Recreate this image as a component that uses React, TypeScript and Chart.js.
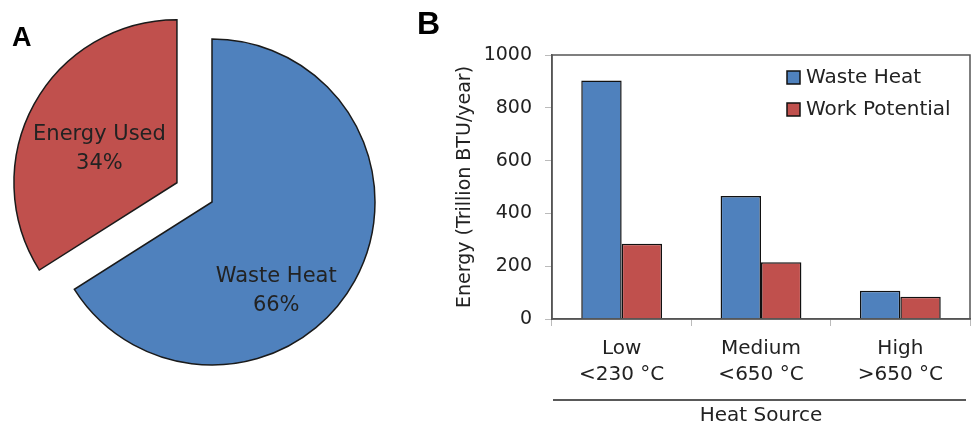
import React, { useEffect, useRef } from "react";
import { Chart, registerables } from "chart.js";

Chart.register(...registerables);

// ---------- Data ----------
const pieLabels = ["Waste Heat", "Energy Used"];
const pieValues = [66, 34];
const pieColors = ["#4F81BD", "#C0504D"];

const categories = [
  ["Low", "<230 °C"],
  ["Medium", "<650 °C"],
  ["High", ">650 °C"],
];
const seriesNames = ["Waste Heat", "Work Potential"];
const wasteHeat = [903, 466, 107];
const workPotential = [285, 215, 84];
const seriesColors = ["#4F81BD", "#C0504D"];
const yMax = 1000;
const yStep = 200;

const yTitle = "Energy (Trillion BTU/year)";
const xTitle = "Heat Source";

// ---------- Styles ----------
const FONT = "'DejaVu Sans', sans-serif";
const TEXT = "#222";
const EXPLODE = [0, 40]; // px each pie slice is pulled out
const PIE_LABEL_POS = [
  { t: 0.606, r: 0.67 },
  { t: 0.46, r: 0.52 },
];

const explodePlugin = {
  id: "explode",
  afterUpdate(chart: any) {
    const meta = chart.getDatasetMeta(0);
    meta.data.forEach((arc: any, i: number) => {
      const d = EXPLODE[i] || 0;
      if (!d) return;
      const mid = (arc.startAngle + arc.endAngle) / 2;
      arc.x += Math.cos(mid) * d;
      arc.y += Math.sin(mid) * d;
    });
  },
};

const pieLabelPlugin = {
  id: "pieLabels",
  afterDatasetsDraw(chart: any) {
    const ctx = chart.ctx;
    const meta = chart.getDatasetMeta(0);
    const values = chart.data.datasets[0].data as number[];
    const total = values.reduce((a, b) => a + b, 0);
    ctx.save();
    ctx.fillStyle = TEXT;
    ctx.font = `21px ${FONT}`;
    ctx.textAlign = "center";
    ctx.textBaseline = "middle";
    meta.data.forEach((arc: any, i: number) => {
      const pos = PIE_LABEL_POS[i];
      const a = arc.startAngle + pos.t * (arc.endAngle - arc.startAngle);
      const lx = arc.x + Math.cos(a) * arc.outerRadius * pos.r;
      const ly = arc.y + Math.sin(a) * arc.outerRadius * pos.r;
      const pct = Math.round((values[i] / total) * 100) + "%";
      ctx.fillText(chart.data.labels[i], lx, ly - 14);
      ctx.fillText(pct, lx, ly + 15);
    });
    ctx.restore();
  },
};

const barDecorPlugin = {
  id: "barDecor",
  afterDraw(chart: any) {
    const { ctx, chartArea: a } = chart;
    ctx.save();
    // frame
    ctx.strokeStyle = "#555";
    ctx.lineWidth = 1.5;
    ctx.strokeRect(a.left, a.top, a.right - a.left, a.bottom - a.top);
    // line above x title
    const xs = chart.scales.x;
    ctx.strokeStyle = "#222";
    ctx.lineWidth = 1.5;
    ctx.beginPath();
    ctx.moveTo(a.left + 1, xs.bottom - 28);
    ctx.lineTo(a.right - 4, xs.bottom - 28);
    ctx.stroke();
    // legend
    ctx.font = `20px ${FONT}`;
    ctx.textBaseline = "middle";
    ctx.textAlign = "left";
    chart.data.datasets.forEach((ds: any, i: number) => {
      const x0 = a.right - 183;
      const y0 = a.top + 16 + i * 32;
      ctx.fillStyle = ds.backgroundColor;
      ctx.fillRect(x0, y0, 13, 13);
      ctx.strokeStyle = "#111";
      ctx.lineWidth = 1.5;
      ctx.strokeRect(x0, y0, 13, 13);
      ctx.fillStyle = TEXT;
      ctx.fillText(ds.label, x0 + 19, y0 + 7);
    });
    ctx.restore();
  },
};

function PieChart() {
  const ref = useRef<HTMLCanvasElement>(null);
  useEffect(() => {
    const chart = new Chart(ref.current!, {
      type: "pie",
      data: {
        labels: pieLabels,
        datasets: [
          {
            data: pieValues,
            backgroundColor: pieColors,
            borderColor: "#1a1a1a",
            borderWidth: 1.5,
            borderJoinStyle: "miter",
          },
        ],
      },
      options: {
        responsive: false,
        animation: false,
        radius: 163,
        layout: { padding: 0 },
        plugins: { legend: { display: false }, tooltip: { enabled: false } },
      } as any,
      plugins: [explodePlugin, pieLabelPlugin],
    });
    return () => chart.destroy();
  }, []);
  return (
    <canvas
      ref={ref}
      width={424}
      height={404}
      style={{ position: "absolute", left: 0, top: 0, width: 424, height: 404 }}
    />
  );
}

function BarChart() {
  const ref = useRef<HTMLCanvasElement>(null);
  useEffect(() => {
    const chart = new Chart(ref.current!, {
      type: "bar",
      data: {
        labels: categories,
        datasets: [
          {
            label: seriesNames[0],
            data: wasteHeat,
            backgroundColor: seriesColors[0],
            borderColor: "#111",
            borderWidth: 1.5,
          },
          {
            label: seriesNames[1],
            data: workPotential,
            backgroundColor: seriesColors[1],
            borderColor: "#111",
            borderWidth: 1.5,
          },
        ],
      },
      options: {
        responsive: false,
        animation: false,
        layout: { padding: { top: 55, right: 2, left: 0, bottom: 0 } },
        datasets: { bar: { categoryPercentage: 0.58, barPercentage: 1.0 } },
        plugins: { legend: { display: false }, tooltip: { enabled: false } },
        scales: {
          x: {
            afterFit: (s: any) => {
              s.height = 109;
            },
            grid: {
              drawOnChartArea: false,
              drawTicks: true,
              tickLength: 7,
              color: "#bbb",
              offset: true,
            },
            border: { display: true, color: "#555", width: 1.5 },
            ticks: {
              color: TEXT,
              padding: 10,
              font: { family: FONT, size: 20, lineHeight: 1.3 },
              maxRotation: 0,
            },
            title: {
              display: true,
              text: xTitle,
              color: TEXT,
              font: { family: FONT, size: 20, lineHeight: 1.2 },
              padding: { top: 0, bottom: 0 },
            },
          },
          y: {
            min: 0,
            max: yMax,
            afterFit: (s: any) => {
              s.width = 112;
            },
            grid: {
              drawOnChartArea: false,
              drawTicks: true,
              tickLength: 7,
              color: "#bbb",
            },
            border: { display: true, color: "#555", width: 1.5 },
            ticks: {
              stepSize: yStep,
              color: TEXT,
              padding: 13,
              font: { family: FONT, size: 19 },
              callback: (v: any) => String(v),
            },
            title: {
              display: true,
              text: yTitle,
              color: TEXT,
              font: { family: FONT, size: 19, lineHeight: 1.2 },
              padding: { top: 14, bottom: 0 },
            },
          },
        },
      } as any,
      plugins: [barDecorPlugin],
    });
    return () => chart.destroy();
  }, []);
  return (
    <canvas
      ref={ref}
      width={532}
      height={428}
      style={{ position: "absolute", left: 440, top: 0, width: 532, height: 428 }}
    />
  );
}

export default function App() {
  const panelLabel: React.CSSProperties = {
    position: "absolute",
    fontFamily: "'Liberation Sans', Arial, sans-serif",
    fontWeight: "bold",
    lineHeight: 1,
    color: "#000",
  };
  return (
    <div
      style={{
        position: "fixed",
        left: 0,
        top: 0,
        width: 972,
        height: 428,
        background: "#fff",
        overflow: "hidden",
      }}
    >
      <PieChart />
      <BarChart />
      <div style={{ ...panelLabel, left: 12, top: 24, fontSize: 27 }}>A</div>
      <div style={{ ...panelLabel, left: 417, top: 7, fontSize: 32 }}>B</div>
    </div>
  );
}
